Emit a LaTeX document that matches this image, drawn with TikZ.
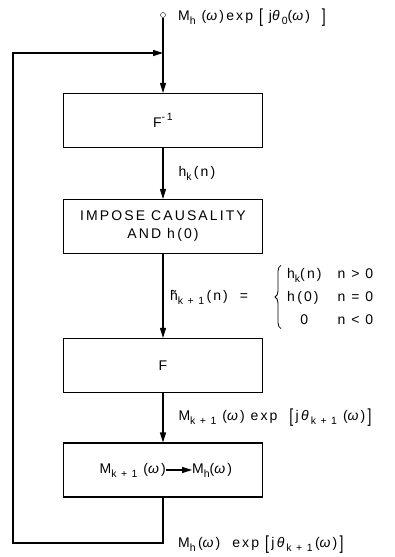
\documentclass[tikz,border=0pt]{standalone}
\usepackage{fontspec}
\setmainfont{Liberation Sans}[LetterSpace=15]
\usetikzlibrary{arrows.meta,decorations.pathreplacing}

% lowered / raised index and tall brackets in the text font
\newcommand{\lo}[1]{\raisebox{-.55ex}{\fontsize{10.5}{11}\selectfont #1}}
\newcommand{\hi}[1]{\raisebox{.9ex}{\fontsize{10.5}{11}\selectfont #1}}
\newcommand{\lb}{\raisebox{-.3ex}{\scalebox{1}[1.35]{[}}}
\newcommand{\rb}{\raisebox{-.3ex}{\scalebox{1}[1.35]{]}}}
\newcommand{\w}{\textit{ω}}
\newcommand{\thet}{\textit{θ}}

\tikzset{
  blk/.style={draw, line width=1.1pt, minimum width=199pt, minimum height=54pt,
    align=center, font=\fontsize{14}{18}\selectfont},
  lbl/.style={anchor=west, inner sep=0pt, font=\fontsize{14}{17}\selectfont},
  wire/.style={line width=1.1pt},
  flow/.style={wire, -{Triangle[length=10pt,width=6pt]}},
  brc/.style={thick, decorate, decoration={brace, amplitude=6pt}}
}

\begin{document}
\begin{tikzpicture}[x=1pt,y=-1pt]
  \useasboundingbox (0,0) rectangle (394,557);
  % blocks
  \node[blk] (finv) at (163,120.5) {F\hi{-\,1}};
  \node[blk] (caus) at (163,226.5) {IMPOSE CAUSALITY\\AND h\,(0)};
  \node[blk] (four) at (163,365.5) {F};
  \node[blk] (mag) at (163,470) {};
  \node[lbl, anchor=east] (mk) at (166,470) {M\lo{k\ +\ 1}\ (\w)};
  \node[lbl] (mh) at (192,470) {M\lo{h}(\w)};
  \draw[flow] (mk) -- (mh);
  % input
  \node[circle, draw, thin, inner sep=0pt, minimum size=5pt] (in) at (163,15) {};
  \node[lbl] (inlbl) at (178,18) {M\lo{h}\ (\w)\,exp\ \lb\ j\thet\lo{0}(\w)\ \ \rb};
  \coordinate (join) at (163,53);
  \draw[flow] (in) -- (finv);
  \draw[flow] (finv) -- (caus) node[lbl, midway, xshift=15pt] (hk) {h\lo{k}\,(n)};
  \draw[flow] (caus) -- (four);
  % equation beside the arrow
  \node[lbl] (lhs) at (170,297) {\~h\lo{k\ +\ 1}\,(n)\ \ =};
  \node[lbl] (cases) at (287,297) {\renewcommand{\arraystretch}{1.35}\begin{tabular}{@{}l@{\hspace{16pt}}l@{}}h\lo{k}(n) & n > 0\\ h\,(0) & n = 0\\ \hfil 0 & n < 0\end{tabular}};
  \draw[brc] ([xshift=-6pt,yshift=3pt]cases.south west) -- ([xshift=-6pt,yshift=-3pt]cases.north west);
  \draw[flow] (four) -- (mag) node[lbl, midway, xshift=15pt] (mklbl) {M\lo{k\ +\ 1}\ (\w)\ exp\ \ \lb\,j\,\thet\lo{k\ +\ 1}\ (\w)\,\rb};
  % feedback loop
  \coordinate (bot) at (163,543);
  \coordinate (lb) at (13,543);
  \coordinate (lt) at (13,53);
  \draw[flow] (mag) -- (bot) -- (lb) -- (lt) -- (join);
  \node[lbl] (outlbl) at (178,545) {M\lo{h}\,(\w)\ \ exp\ \lb\,j\,\thet\lo{k\ +\ 1}\,(\w)\,\rb};
\end{tikzpicture}
\end{document}
